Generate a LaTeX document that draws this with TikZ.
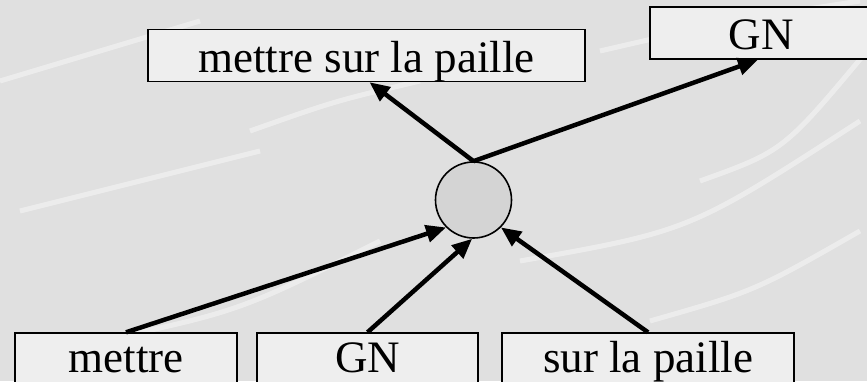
\documentclass[tikz,border=0pt]{standalone}
\usepackage{fontspec}
\setmainfont{Liberation Serif}
\usetikzlibrary{arrows.meta}
\definecolor{bgmarble}{RGB}{224,224,224}
\definecolor{boxfill}{RGB}{238,238,238}
\definecolor{circfill}{RGB}{212,212,212}
\tikzset{
  wordbox/.style={draw=black, line width=1.4pt, fill=boxfill, minimum height=52pt,
    inner sep=0pt, font=\fontsize{45}{48}\selectfont, anchor=center},
  upperbox/.style={wordbox, text height=38pt, text depth=4pt},
  lowerbox/.style={wordbox, text height=33pt, text depth=7pt},
  hub/.style={circle, draw=black, line width=1.6pt, fill=circfill, minimum size=76pt, inner sep=0pt},
  link/.style={line width=4.5pt, -{Triangle[length=20pt,width=17pt]}}
}
\begin{document}
\begin{tikzpicture}[x=1pt,y=1pt]
\useasboundingbox (0,0) rectangle (867,381);
\clip (0,0) rectangle (867,381);
\fill[bgmarble] (0,0) rectangle (867,381);
% light streaks suggesting the marble texture
\foreach \a/\b/\c/\d in {0/300/200/360, 100/40/380/140, 520/120/860/260, 600/330/860/380, 20/170/260/230, 650/60/860/150, 250/250/420/300, 700/200/867/330}
  \draw[white, opacity=0.4, line width=5pt] (\a,\b) .. controls ({(\a+\c)/2},{\b+30}) .. (\c,\d);

\node[upperbox, minimum width=437pt] (top) at (366.5,325.5) {mettre sur la paille};
\node[upperbox, minimum width=222pt] (gnt) at (761,348) {GN};
\node[hub] (c) at (473.5,181) {};
\node[lowerbox, minimum width=222pt] (m) at (126,22) {mettre};
\node[lowerbox, minimum width=221pt] (g) at (367.5,22) {GN};
\node[lowerbox, minimum width=292pt] (s) at (648,22) {sur la paille};

\draw[link] (c.north) -- ([xshift=3pt]top.south);
\draw[link] (c.north) -- ([xshift=-3pt]gnt.south);
\draw[link] (m.north) -- (c.225);
\draw[link] (g.north) -- (c.268);
\draw[link] (s.north) -- (c.315);
\end{tikzpicture}
\end{document}
